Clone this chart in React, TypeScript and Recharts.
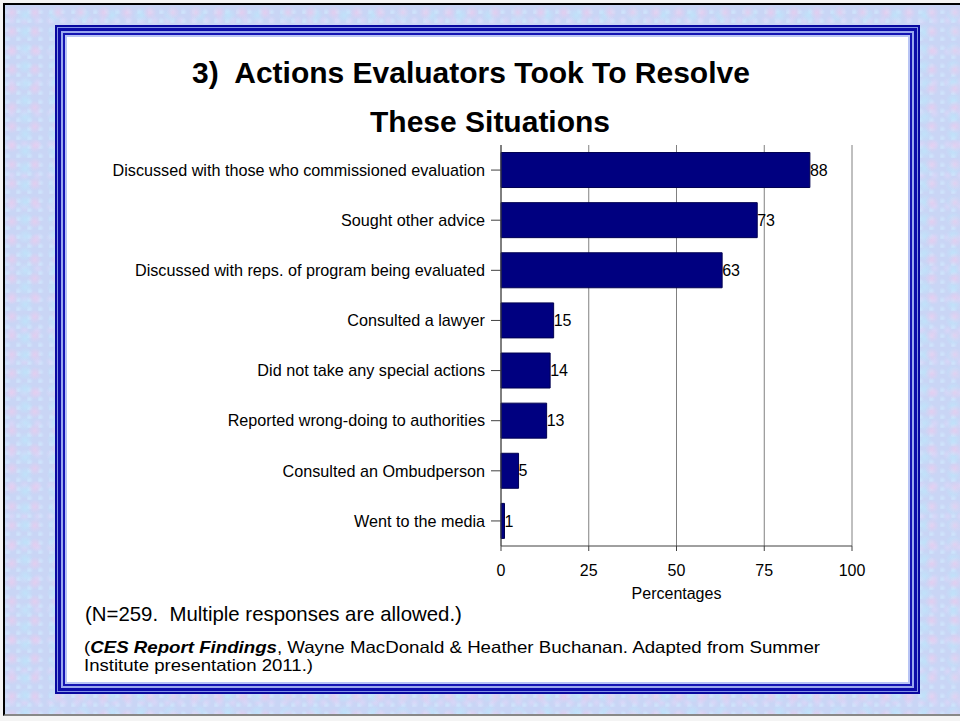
import React from 'react';
import { BarChart, Bar, XAxis, YAxis, CartesianGrid, LabelList } from 'recharts';

const categories = [
  'Discussed with those who commissioned evaluation',
  'Sought other advice',
  'Discussed with reps. of program being evaluated',
  'Consulted a lawyer',
  'Did not take any special actions',
  'Reported wrong-doing to authorities',
  'Consulted an Ombudperson',
  'Went to the media',
];
const percentages = [88, 73, 63, 15, 14, 13, 5, 1];
const xTicks = [0, 25, 50, 75, 100];
const titleLines = ['3)  Actions Evaluators Took To Resolve', 'These Situations'];
const axisTitle = 'Percentages';
const note1 = '(N=259.  Multiple responses are allowed.)';
const sourceBold = 'CES Report Findings';
const sourceRest1 = ', Wayne MacDonald & Heather Buchanan. Adapted from Summer';
const sourceRest2 = 'Institute presentation 2011.)';

const data = categories.map((name, i) => ({ name, value: percentages[i] }));

const FONT = '"Liberation Sans", Arial, sans-serif';

const texture: React.CSSProperties = {
  backgroundColor: '#c9d5f5',
  backgroundImage: [
    'radial-gradient(circle at 30% 40%, rgba(232,204,238,0.8) 0, rgba(232,204,238,0) 7px)',
    'radial-gradient(circle at 70% 60%, rgba(190,228,250,0.85) 0, rgba(190,228,250,0) 8px)',
    'radial-gradient(circle at 50% 50%, rgba(222,214,248,0.7) 0, rgba(222,214,248,0) 5px)',
    'radial-gradient(circle at 20% 80%, rgba(210,236,255,0.7) 0, rgba(210,236,255,0) 4px)',
  ].join(','),
  backgroundSize: '23px 19px, 29px 17px, 13px 31px, 11px 9px',
};

export default function App() {
  return (
    <div style={{ position: 'absolute', left: 0, top: 0, width: 960, height: 721, background: '#f4f4f4', overflow: 'hidden', fontFamily: FONT }}>
      <div
        style={{
          position: 'absolute',
          left: 3,
          top: 3,
          width: 957,
          height: 713,
          borderLeft: '2px solid #000',
          borderTop: '2px solid #000',
          borderBottom: '2px solid #888',
          boxSizing: 'border-box',
          ...texture,
        }}
      />
      <div
        style={{
          position: 'absolute',
          left: 67,
          top: 37,
          width: 841,
          height: 645,
          background: '#ffffff',
          boxShadow:
            '0 0 0 2px #b8c4f4, 0 0 0 4px #1414b4, 0 0 0 6px #9aa8ee, 0 0 0 9px #0c0ca8, 0 0 0 10px #8494e6, 0 0 0 12px #0808a0',
        }}
      />
      <div style={{ position: 'absolute', left: 0, top: 0 }}>
        <BarChart
          width={960}
          height={721}
          data={data}
          layout="vertical"
          margin={{ top: 145, right: 108, bottom: 135, left: 0 }}
          barCategoryGap="15%"
          style={{ fontFamily: FONT }}
        >
          <CartesianGrid vertical={true} horizontal={false} stroke="#808080" strokeWidth={1} />
          <XAxis
            type="number"
            domain={[0, 100]}
            ticks={xTicks}
            interval={0}
            height={40}
            tickSize={5}
            tickMargin={14}
            axisLine={{ stroke: '#404040' }}
            tickLine={{ stroke: '#404040' }}
            tick={{ fill: '#000', fontSize: 16, fontFamily: FONT }}
          />
          <XAxis
            xAxisId="top"
            orientation="top"
            type="number"
            domain={[0, 100]}
            height={0}
            tick={false}
            tickLine={false}
            axisLine={{ stroke: '#808080' }}
          />
          <YAxis
            type="category"
            dataKey="name"
            width={501}
            interval={0}
            tickSize={10}
            tickMargin={6}
            axisLine={{ stroke: '#404040' }}
            tickLine={{ stroke: '#404040' }}
            tick={{ fill: '#000', fontSize: 16.2, fontFamily: FONT }}
          />
          <Bar dataKey="value" fill="#000080" stroke="#000050" strokeWidth={1} isAnimationActive={false}>
            <LabelList dataKey="value" position="right" offset={0} fill="#000" fontSize={16} fontFamily={FONT} />
          </Bar>
        </BarChart>
      </div>
      <svg width={960} height={721} style={{ position: 'absolute', left: 0, top: 0, pointerEvents: 'none' }} fontFamily={FONT}>
        <text x={192} y={83} fontSize={30} fontWeight="bold" fill="#000" style={{ whiteSpace: 'pre' }}>
          {titleLines[0]}
        </text>
        <text x={370} y={132} fontSize={30} fontWeight="bold" fill="#000">
          {titleLines[1]}
        </text>
        <text x={676.5} y={599} fontSize={16} textAnchor="middle" fill="#000">
          {axisTitle}
        </text>
        <text x={85} y={621} fontSize={20.4} fill="#000" style={{ whiteSpace: 'pre' }}>
          {note1}
        </text>
        <text x={84} y={653} fontSize={16.5} fill="#000" textLength={736} lengthAdjust="spacingAndGlyphs">
          <tspan>(</tspan>
          <tspan fontWeight="bold" fontStyle="italic">{sourceBold}</tspan>
          <tspan>{sourceRest1}</tspan>
        </text>
        <text x={84} y={671} fontSize={16.5} fill="#000" textLength={229} lengthAdjust="spacingAndGlyphs">
          {sourceRest2}
        </text>
      </svg>
    </div>
  );
}
